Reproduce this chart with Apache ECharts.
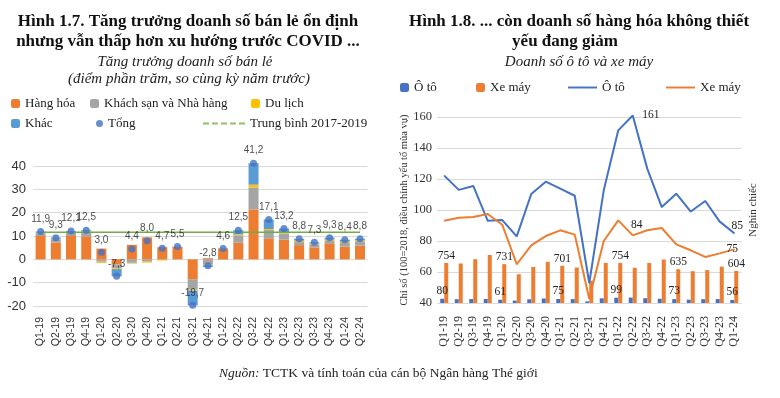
<!DOCTYPE html>
<html><head><meta charset="utf-8">
<script src="https://cdn.jsdelivr.net/npm/echarts@6/dist/echarts.min.js"></script>
<style>html,body{margin:0;padding:0;background:#fff}#c{width:780px;height:398px}</style>
</head><body><div id="c"></div>
<script>
// ---- Hình 1.7 data ----
const cats1 = ['Q1-19','Q2-19','Q3-19','Q4-19','Q1-20','Q2-20','Q3-20','Q4-20','Q1-21','Q2-21','Q3-21','Q4-21','Q1-22','Q2-22','Q3-22','Q4-22','Q1-23','Q2-23','Q3-23','Q4-23','Q1-24','Q2-24'];
const hangHoa = [10.0, 7.2, 10.0, 9.8, 4.6, -2.2, 6.2, 9.4, 5.2, 5.3, -8.5, 0.5, 4.6, 7.1, 21.4, 9.0, 8.4, 6.1, 5.1, 6.6, 5.4, 5.9];
const khachSan = [1.2, 1.4, 1.3, 2.0, -1.0, -1.6, -1.5, -1.0, -0.2, 0.1, -4.5, -2.3, 0.2, 3.2, 9.4, 3.6, 2.7, 1.3, 1.3, 1.3, 1.6, 1.7];
const duLich = [0.2, 0.2, 0.3, 0.2, -0.5, -0.4, -0.2, -0.4, -0.3, 0.0, -0.4, -0.3, -0.1, 0.4, 1.2, 0.4, 0.4, 0.6, 0.4, 0.6, 0.6, 0.5];
const khac = [0.5, 0.5, 0.5, 0.5, -0.1, -3.1, -0.1, 0.0, 0.0, 0.1, -6.3, -0.7, -0.1, 1.8, 9.2, 4.1, 1.7, 0.8, 0.5, 0.8, 0.8, 0.7];
const tong = [11.9, 9.3, 12.1, 12.5, 3.0, -7.3, 4.4, 8.0, 4.7, 5.5, -19.7, -2.8, 4.6, 12.5, 41.2, 17.1, 13.2, 8.8, 7.3, 9.3, 8.4, 8.8];
const trungBinh = cats1.map(() => 11.6);
const ticks1 = [-20, -10, 0, 10, 20, 30, 40];

// ---- Hình 1.8 data ----
const cats2 = ['Q1-19','Q2-19','Q3-19','Q4-19','Q1-20','Q2-20','Q3-20','Q4-20','Q1-21','Q2-21','Q3-21','Q4-21','Q1-22','Q2-22','Q3-22','Q4-22','Q1-23','Q2-23','Q3-23','Q4-23','Q1-24'];
const otoIndex = [122.2, 113, 115.5, 93, 93.5, 83, 110.3, 118.3, 113.8, 109.2, 52.9, 112.7, 151.4, 161, 126.7, 101.9, 110.5, 99, 105.8, 92.5, 85];
const xeMayIndex = [93.1, 95, 95.5, 97.4, 90.5, 65, 77.2, 83.2, 86.9, 84.1, 42.8, 80, 93.3, 83.6, 86.9, 88.4, 77.8, 74, 69.7, 72, 74.6];
const otoSales = [80, 72, 74, 76, 61, 45, 70, 85, 75, 73, 30, 88, 99, 102, 90, 80, 73, 62, 72, 74, 56];
const xeMaySales = [754, 743, 824, 904, 731, 540, 679, 776, 701, 668, 420, 754, 754, 663, 754, 819, 635, 599, 620, 684, 604];
const ticks2 = [40, 60, 80, 100, 120, 140, 160];

const SERIF = '"Liberation Serif", "DejaVu Serif", serif';
const SANS = '"Liberation Sans", Arial, sans-serif';
const C_OR = '#ED7D31', C_GR = '#A5A5A5', C_YE = '#FFC000', C_LB = '#5B9BD5', C_BL = '#4472C4';

const comma = v => v.toFixed(1).replace('.', ',');
const q1Label = p => (p.dataIndex % 4 === 0 ? String(Math.round(p.value)) : '');
const DASH_ICON = 'path://M0,0h6v2h-6z M9,0h6v2h-6z M18,0h6v2h-6z M27,0h6v2h-6z M36,0h6v2h-6z';
const LINE_ICON = 'path://M0,0h30v2h-30z';

const chart = echarts.init(document.getElementById('c'), null, {renderer: 'canvas'});

const legendText = {fontFamily: SERIF, fontSize: 13, color: '#222'};
function leg(name, left, top, extra) {
  return Object.assign({data: [name], left: left, top: top, itemWidth: 9, itemHeight: 9, itemGap: 0,
    textStyle: legendText, padding: 0, selectedMode: false}, extra || {});
}

const option = {
  animation: false,
  backgroundColor: '#fff',
  graphic: [
    {type: 'text', x: 188, y: 22, style: {text: 'Hình 1.7. Tăng trưởng doanh số bán lẻ ổn định', font: 'bold 17px ' + SERIF, fill: '#111', textAlign: 'center', textVerticalAlign: 'middle'}},
    {type: 'text', x: 188, y: 42, style: {text: 'nhưng vẫn thấp hơn xu hướng trước COVID ...', font: 'bold 17px ' + SERIF, fill: '#111', textAlign: 'center', textVerticalAlign: 'middle'}},
    {type: 'text', x: 185, y: 62, style: {text: 'Tăng trưởng doanh số bán lẻ', font: 'italic 15px ' + SERIF, fill: '#222', textAlign: 'center', textVerticalAlign: 'middle'}},
    {type: 'text', x: 189, y: 79, style: {text: '(điểm phần trăm, so cùng kỳ năm trước)', font: 'italic 15px ' + SERIF, fill: '#222', textAlign: 'center', textVerticalAlign: 'middle'}},
    {type: 'text', x: 579, y: 22, style: {text: 'Hình 1.8. ... còn doanh số hàng hóa không thiết', font: 'bold 17px ' + SERIF, fill: '#111', textAlign: 'center', textVerticalAlign: 'middle'}},
    {type: 'text', x: 565, y: 42, style: {text: 'yếu đang giảm', font: 'bold 17px ' + SERIF, fill: '#111', textAlign: 'center', textVerticalAlign: 'middle'}},
    {type: 'text', x: 579, y: 62, style: {text: 'Doanh số ô tô và xe máy', font: 'italic 15px ' + SERIF, fill: '#222', textAlign: 'center', textVerticalAlign: 'middle'}},
    {type: 'text', x: 219, y: 373, style: {text: '{i|Nguồn:} {n|TCTK và tính toán của cán bộ Ngân hàng Thé giới}', textVerticalAlign: 'middle',
      rich: {i: {fontFamily: SERIF, fontStyle: 'italic', fontSize: 13.5, fill: '#222'}, n: {fontFamily: SERIF, fontSize: 13.5, fill: '#222'}}}}
  ],
  legend: [
    leg('Hàng hóa', 11, 97),
    leg('Khách sạn và Nhà hàng', 90, 97),
    leg('Du lịch', 251, 97),
    leg('Khác', 11, 117),
    leg('Tổng', 96, 117, {itemWidth: 7, itemHeight: 7, icon: 'circle'}),
    leg('Trung bình 2017-2019', 203, 117, {itemWidth: 42, itemHeight: 2, icon: DASH_ICON, itemStyle: {color: '#8FC36A'}}),
    leg('Ô tô (c)', 400, 81, {formatter: () => 'Ô tô'}),
    leg('Xe máy (c)', 476, 81, {formatter: () => 'Xe máy'}),
    leg('Ô tô (i)', 568, 81, {itemWidth: 29, itemHeight: 2, icon: LINE_ICON, formatter: () => 'Ô tô'}),
    leg('Xe máy (i)', 666, 81, {itemWidth: 29, itemHeight: 2, icon: LINE_ICON, formatter: () => 'Xe máy'})
  ],
  grid: [
    {left: 33, right: 412.4, top: 166, bottom: 92},
    {left: 437, right: 38.5, top: 117, bottom: 95}
  ],
  xAxis: [
    {type: 'category', gridIndex: 0, data: cats1, boundaryGap: true,
      axisLine: {show: false}, axisTick: {show: false},
      axisLabel: {rotate: 90, fontFamily: SANS, fontSize: 10.5, color: '#333', margin: 11, interval: 0}},
    {type: 'category', gridIndex: 1, data: cats2, boundaryGap: true,
      axisLine: {show: false}, axisTick: {show: false},
      axisLabel: {rotate: 90, fontFamily: SERIF, fontSize: 12, color: '#333', margin: 13, interval: 0}}
  ],
  yAxis: [
    {type: 'value', gridIndex: 0, min: ticks1[0], max: ticks1[ticks1.length - 1], interval: 10,
      axisLine: {show: false}, axisTick: {show: false},
      splitLine: {lineStyle: {color: '#d9d9d9', width: 1}},
      axisLabel: {fontFamily: SANS, fontSize: 13, color: '#333', margin: 7}},
    {type: 'value', gridIndex: 1, min: ticks2[0], max: ticks2[ticks2.length - 1], interval: 20,
      axisLine: {show: false}, axisTick: {show: false},
      splitLine: {lineStyle: {color: '#d9d9d9', width: 1}},
      axisLabel: {fontFamily: SERIF, fontSize: 12.5, color: '#333', margin: 5},
      name: 'Chỉ số (100=2018, điều chỉnh yếu tố mùa vụ)', nameLocation: 'middle', nameRotate: 90, nameGap: 26,
      nameTextStyle: {fontFamily: SERIF, fontSize: 10.5, color: '#333'}},
    {type: 'value', gridIndex: 1, position: 'right', min: 0, max: 3500,
      axisLine: {show: false}, axisTick: {show: false}, splitLine: {show: false}, axisLabel: {show: false},
      name: 'Nghìn chiếc', nameLocation: 'middle', nameRotate: 90, nameGap: 6,
      nameTextStyle: {fontFamily: SERIF, fontSize: 11, color: '#333'}}
  ],
  series: [
    {name: 'Hàng hóa', type: 'bar', stack: 'a', xAxisIndex: 0, yAxisIndex: 0, data: hangHoa, barWidth: 10, itemStyle: {color: C_OR}, clip: false},
    {name: 'Khách sạn và Nhà hàng', type: 'bar', stack: 'a', xAxisIndex: 0, yAxisIndex: 0, data: khachSan, barWidth: 10, itemStyle: {color: C_GR}, clip: false},
    {name: 'Du lịch', type: 'bar', stack: 'a', xAxisIndex: 0, yAxisIndex: 0, data: duLich, barWidth: 10, itemStyle: {color: C_YE}, clip: false},
    {name: 'Khác', type: 'bar', stack: 'a', xAxisIndex: 0, yAxisIndex: 0, data: khac, barWidth: 10, itemStyle: {color: C_LB}, clip: false},
    {name: 'Trung bình 2017-2019', type: 'line', xAxisIndex: 0, yAxisIndex: 0, data: trungBinh, symbol: 'none',
      lineStyle: {color: '#70AD47', width: 1.5}, itemStyle: {color: '#8FC36A'}, z: 3},
    {name: 'Tổng', type: 'scatter', xAxisIndex: 0, yAxisIndex: 0, data: tong, symbol: 'circle', symbolSize: 7, clip: false,
      itemStyle: {color: C_BL}, z: 4,
      label: {show: true, position: 'top', distance: 4, formatter: p => comma(p.value), fontFamily: SANS, fontSize: 10, color: '#222'}},

    {name: 'Ô tô (c)', type: 'bar', xAxisIndex: 1, yAxisIndex: 2, data: otoSales, barWidth: 4, barGap: '0%', itemStyle: {color: C_BL},
      label: {show: true, position: 'top', distance: 2, formatter: q1Label, fontFamily: SERIF, fontSize: 11.5, color: '#222'}},
    {name: 'Xe máy (c)', type: 'bar', xAxisIndex: 1, yAxisIndex: 2, data: xeMaySales, barWidth: 4, barGap: '0%', itemStyle: {color: C_OR},
      label: {show: true, position: 'top', distance: 1, formatter: q1Label, fontFamily: SERIF, fontSize: 11.5, color: '#222'}},
    {name: 'Ô tô (i)', type: 'line', xAxisIndex: 1, yAxisIndex: 1, symbol: 'circle', symbolSize: 1, showSymbol: true, clip: false,
      lineStyle: {color: C_BL, width: 2}, itemStyle: {color: C_BL}, z: 3,
      label: {show: false, fontFamily: SERIF, fontSize: 11.5, color: '#222'},
      data: otoIndex.map((v, i) => i === 13 ? {value: v, label: {show: true, position: 'right', distance: 9, formatter: p => Math.round(p.value)}}
                                  : i === otoIndex.length - 1 ? {value: v, label: {show: true, position: 'top', distance: 1, offset: [3, 0], formatter: p => Math.round(p.value)}} : v)},
    {name: 'Xe máy (i)', type: 'line', xAxisIndex: 1, yAxisIndex: 1, symbol: 'circle', symbolSize: 1, showSymbol: true, clip: false,
      lineStyle: {color: C_OR, width: 2}, itemStyle: {color: C_OR}, z: 3,
      label: {show: false, fontFamily: SERIF, fontSize: 11.5, color: '#222'},
      data: xeMayIndex.map((v, i) => i === 13 ? {value: v, label: {show: true, position: 'top', distance: 4, offset: [4, 0], formatter: p => Math.round(p.value)}}
                                    : i === xeMayIndex.length - 1 ? {value: v, label: {show: true, position: 'top', distance: 0, offset: [-2, 6], formatter: p => Math.round(p.value)}} : v)}
  ]
};
chart.setOption(option);
</script></body></html>
